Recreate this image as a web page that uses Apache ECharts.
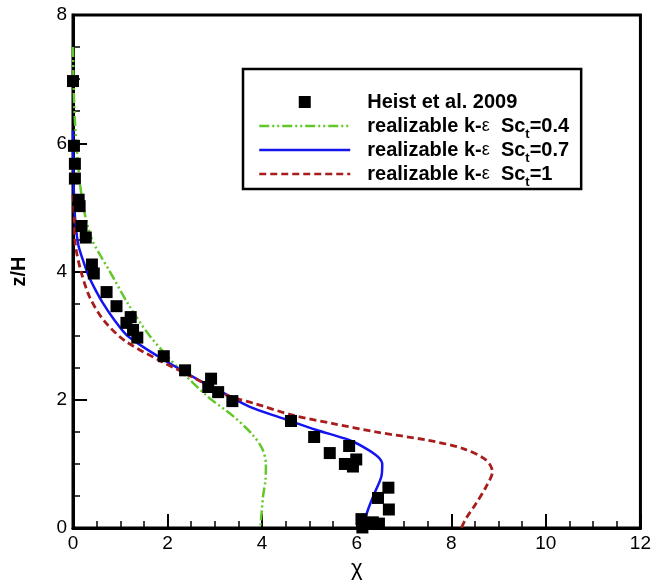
<!DOCTYPE html>
<html><head><meta charset="utf-8">
<script src="https://cdn.jsdelivr.net/npm/echarts@6/dist/echarts.min.js"></script>
<style>html,body{margin:0;padding:0;background:#fff}#c{width:654px;height:585px}</style>
</head><body><div id="c"></div>
<script>
// ---- data ----
const heistName = 'Heist et al. 2009';
const heistX = [0.00,0.02,0.04,0.04,0.12,0.14,0.18,0.27,0.40,0.44,0.71,0.92,1.22,1.13,1.27,1.36,1.92,2.37,2.92,2.86,3.07,3.37,4.61,5.10,5.43,5.84,5.75,5.99,5.92,6.67,6.45,6.68,6.10,6.34,6.47,6.12];
const heistY = [6.97,5.96,5.68,5.45,5.12,5.02,4.71,4.53,4.11,3.97,3.68,3.46,3.29,3.20,3.09,2.97,2.68,2.46,2.33,2.20,2.12,1.98,1.67,1.42,1.17,1.28,1.00,1.07,0.96,0.63,0.47,0.29,0.14,0.09,0.07,0.01];

const sc04Name = 'realizable k-ε Sct=0.4';
const sc04X = [0.00,0.01,0.03,0.07,0.13,0.22,0.39,0.58,0.78,1.17,1.62,2.22,2.85,3.38,3.78,4.00,4.08,4.07,4.02,3.99,3.96];
const sc04Y = [7.50,7.00,6.50,6.00,5.50,5.00,4.52,4.25,4.00,3.49,3.00,2.50,2.05,1.75,1.47,1.24,1.00,0.75,0.50,0.25,0.00];

const sc07Name = 'realizable k-ε Sct=0.7';
const sc07X = [0.00,0.01,0.03,0.06,0.11,0.20,0.32,0.45,0.64,0.87,1.15,1.84,2.68,3.20,3.74,4.44,5.15,5.85,6.20,6.45,6.54,6.52,6.38,6.24,6.15,6.13];
const sc07Y = [6.20,5.50,5.00,4.70,4.42,4.20,3.95,3.75,3.50,3.25,3.00,2.66,2.30,2.10,1.89,1.71,1.53,1.37,1.24,1.11,1.00,0.80,0.55,0.29,0.08,0.00];

const sc1Name = 'realizable k-ε Sct=1';
const sc1X = [0.00,0.03,0.05,0.17,0.36,0.66,1.10,1.84,2.54,3.25,3.85,4.65,5.50,6.40,7.50,8.25,8.74,8.87,8.74,8.53,8.32,8.21];
const sc1Y = [5.20,4.80,4.42,4.00,3.59,3.23,2.92,2.61,2.35,2.07,1.94,1.76,1.63,1.50,1.37,1.24,1.06,0.88,0.65,0.39,0.16,0.00];

const xTickMin = 0, xTickMax = 12, xTickStep = 2;
const yTickMin = 0, yTickMax = 8, yTickStep = 2;
const subValues = {};
subValues[sc04Name] = '0.4'; subValues[sc07Name] = '0.7'; subValues[sc1Name] = '1';

function zip(xs, ys){ return xs.map((x,i)=>[x, ys[i]]); }

const FONT = "'Liberation Sans', Arial, sans-serif";
const chart = echarts.init(document.getElementById('c'), null, {renderer:'canvas'});

const axisCommon = {
  type: 'value',
  axisLine: {show: true, onZero: false, lineStyle: {color: '#000', width: 3}},
  axisTick: {show: true, inside: true, length: 14, lineStyle: {color: '#000', width: 2}},
  minorTick: {show: true, splitNumber: 4, length: 7, lineStyle: {color: '#000', width: 1.5}},
  splitLine: {show: false},
  axisLabel: {color: '#000', fontFamily: FONT, fontSize: 19}
};

chart.setOption({
  animation: false,
  backgroundColor: '#fff',
  grid: {left: 73, right: 13, top: 15, bottom: 53, show: true, borderColor: '#000', borderWidth: 3, backgroundColor: 'transparent'},
  xAxis: Object.assign({}, axisCommon, {
    min: xTickMin, max: xTickMax, interval: xTickStep,
    name: 'χ', nameLocation: 'middle', nameGap: 27,
    nameTextStyle: {color: '#000', fontFamily: FONT, fontSize: 22},
    axisLabel: Object.assign({}, axisCommon.axisLabel, {margin: 6})
  }),
  yAxis: Object.assign({}, axisCommon, {
    min: yTickMin, max: yTickMax, interval: yTickStep,
    name: 'z/H', nameLocation: 'middle', nameGap: 44, nameRotate: 90,
    nameTextStyle: {color: '#000', fontFamily: FONT, fontSize: 20, fontWeight: 'bold'},
    axisLabel: Object.assign({}, axisCommon.axisLabel, {margin: 6})
  }),
  legend: {
    orient: 'vertical',
    left: 243, top: 69,
    padding: [18, 12, 0, 15],
    itemGap: -6,
    itemWidth: 91, itemHeight: 14,
    borderColor: '#000', borderWidth: 2.5,
    backgroundColor: '#fff',
    selectedMode: false,
    lineStyle: {width: 2.5},
    data: [
      {name: heistName, icon: 'path://M0,0M91,14M39.5,1L51.5,1L51.5,13L39.5,13Z', itemStyle: {opacity: 1}},
      {name: sc04Name, itemStyle: {opacity: 0}},
      {name: sc07Name, itemStyle: {opacity: 0}},
      {name: sc1Name, itemStyle: {opacity: 0}}
    ],
    formatter: function(name){
      if (name === heistName) return '{b|' + name + '}';
      return '{b|realizable k-}{e|ε}{b|  Sc}{s|t}{b|=' + subValues[name] + '}';
    },
    textStyle: {
      padding: [0, 0, 0, 12],
      fontFamily: FONT, fontSize: 20, fontWeight: 'bold', color: '#000', lineHeight: 30,
      rich: {
        b: {fontFamily: FONT, fontSize: 20, fontWeight: 'bold', color: '#000', lineHeight: 30},
        e: {fontFamily: FONT, fontSize: 18, fontWeight: 'normal', color: '#000', lineHeight: 30},
        s: {fontFamily: FONT, fontSize: 13, fontWeight: 'bold', color: '#000', lineHeight: 13, verticalAlign: 'bottom'}
      }
    }
  },
  series: [
    {name: sc04Name, type: 'line', data: zip(sc04X, sc04Y), symbol: 'none', smooth: 0.3, z: 3,
     lineStyle: {color: '#62c82a', width: 2.5, type: [10, 3, 2, 3, 2, 3]}, itemStyle: {color: '#62c82a'}},
    {name: sc07Name, type: 'line', data: zip(sc07X, sc07Y), symbol: 'none', smooth: 0.3, z: 3,
     lineStyle: {color: '#1414f0', width: 2.5, type: 'solid'}, itemStyle: {color: '#1414f0'}},
    {name: sc1Name, type: 'line', data: zip(sc1X, sc1Y), symbol: 'none', smooth: 0.3, z: 3,
     lineStyle: {color: '#a81c1c', width: 2.8, type: [7, 4]}, itemStyle: {color: '#a81c1c'}},
    {name: heistName, type: 'scatter', data: zip(heistX, heistY), symbol: 'rect', symbolSize: 12, z: 4,
     itemStyle: {color: '#000', opacity: 1}}
  ]
});
</script>
</body></html>
